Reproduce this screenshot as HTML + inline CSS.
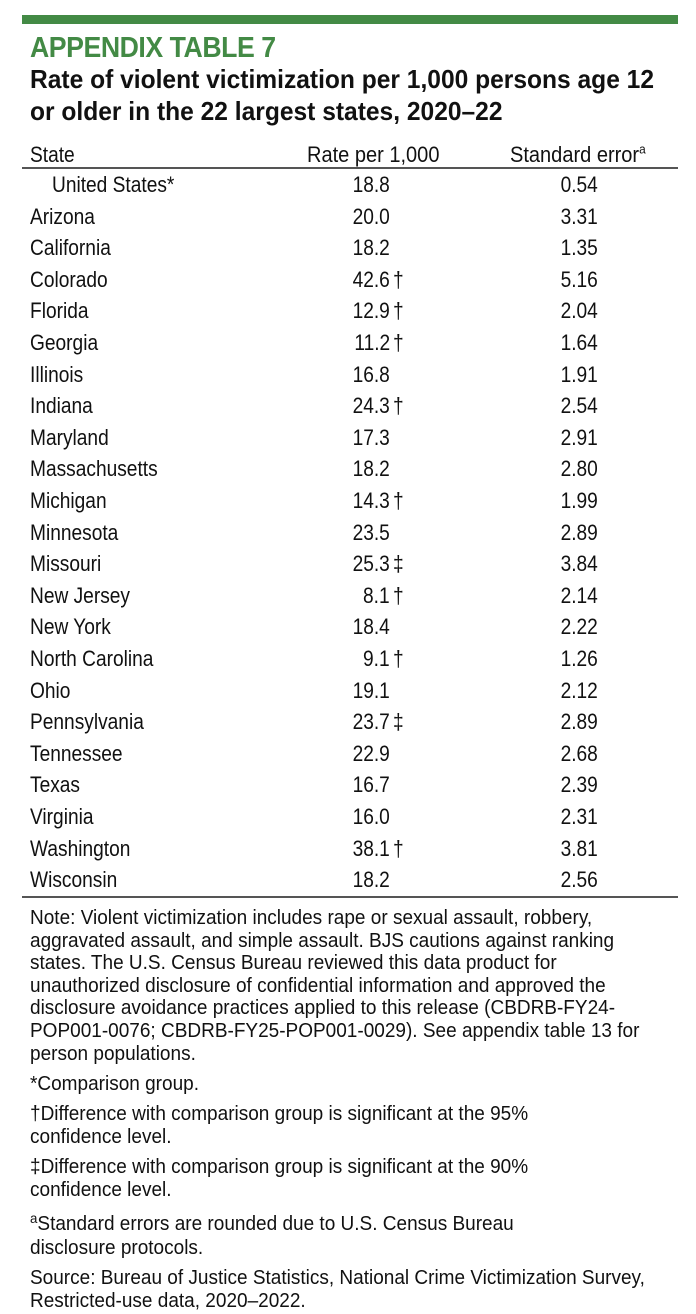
<!DOCTYPE html>
<html><head><style>
body{margin:0;width:696px;height:1314px;background:#fff;position:relative;overflow:hidden;font-family:"Liberation Sans",sans-serif;color:#111}
.a{position:absolute;white-space:nowrap;line-height:1;transform-origin:0 0}
.r{position:absolute;left:0;width:696px;height:24px;font-size:22px;line-height:24px}
.r span{position:absolute;transform:scaleX(0.87)}
.s{left:30px;transform-origin:0 0}
.v{right:306px;transform-origin:100% 0}
.d{left:393px;transform-origin:0 0}
.e{right:98px;transform-origin:100% 0}
.n{position:absolute;left:30px;font-size:20px;line-height:22.6px;white-space:nowrap;transform:scaleX(0.95);transform-origin:0 0}
</style></head><body>
<div style="position:absolute;left:22px;top:15px;width:656px;height:9px;background:#438a45"></div>
<div class="a" style="left:30px;top:34px;font-size:29px;font-weight:bold;color:#438a45;letter-spacing:-0.5px;transform:scaleX(0.92)">APPENDIX TABLE 7</div>
<div class="a" style="left:30px;top:66px;font-size:26px;font-weight:bold;transform:scaleX(0.945)">Rate of violent victimization per 1,000 persons age 12</div>
<div class="a" style="left:30px;top:98px;font-size:26px;font-weight:bold;transform:scaleX(0.945)">or older in the 22 largest states, 2020–22</div>
<div class="r" style="top:143px"><span class="s">State</span><span style="left:307px;transform-origin:0 0;transform:scaleX(0.91)">Rate per 1,000</span><span style="left:510px;transform-origin:0 0;transform:scaleX(0.91)">Standard error<sup style="font-size:13px;line-height:0">a</sup></span></div>
<div style="position:absolute;left:22px;top:167px;width:656px;height:2px;background:#555"></div>
<div id="rows"></div>
<div style="position:absolute;left:22px;top:896px;width:656px;height:2px;background:#555"></div>
<div class="n" style="top:907px">Note: Violent victimization includes rape or sexual assault, robbery,<br>aggravated assault, and simple assault. BJS cautions against ranking<br>states. The U.S. Census Bureau reviewed this data product for<br>unauthorized disclosure of confidential information and approved the<br>disclosure avoidance practices applied to this release (CBDRB-FY24-<br>POP001-0076; CBDRB-FY25-POP001-0029). See appendix table 13 for<br>person populations.</div>
<div class="n" style="top:1073px">*Comparison group.</div>
<div class="n" style="top:1103px">†Difference with comparison group is significant at the 95%<br>confidence level.</div>
<div class="n" style="top:1156px">‡Difference with comparison group is significant at the 90%<br>confidence level.</div>
<div class="n" style="top:1213px"><span style="font-size:14px;position:relative;top:-7px">a</span>Standard errors are rounded due to U.S. Census Bureau<br>disclosure protocols.</div>
<div class="n" style="top:1267px">Source: Bureau of Justice Statistics, National Crime Victimization Survey,<br>Restricted-use data, 2020–2022.</div>
<script>
var d=[["United States*","18.8","","0.54"],["Arizona","20.0","","3.31"],["California","18.2","","1.35"],["Colorado","42.6","†","5.16"],["Florida","12.9","†","2.04"],["Georgia","11.2","†","1.64"],["Illinois","16.8","","1.91"],["Indiana","24.3","†","2.54"],["Maryland","17.3","","2.91"],["Massachusetts","18.2","","2.80"],["Michigan","14.3","†","1.99"],["Minnesota","23.5","","2.89"],["Missouri","25.3","‡","3.84"],["New Jersey","8.1","†","2.14"],["New York","18.4","","2.22"],["North Carolina","9.1","†","1.26"],["Ohio","19.1","","2.12"],["Pennsylvania","23.7","‡","2.89"],["Tennessee","22.9","","2.68"],["Texas","16.7","","2.39"],["Virginia","16.0","","2.31"],["Washington","38.1","†","3.81"],["Wisconsin","18.2","","2.56"]];
var h="";d.forEach(function(r,i){var t=173+i*31.6;h+='<div class="r" style="top:'+t+'px"><span class="s" style="left:'+(i?30:52)+'px">'+r[0]+'</span><span class="v">'+r[1]+'</span><span class="d">'+r[2]+'</span><span class="e">'+r[3]+'</span></div>';});
document.getElementById("rows").innerHTML=h;
</script>
</body></html>
